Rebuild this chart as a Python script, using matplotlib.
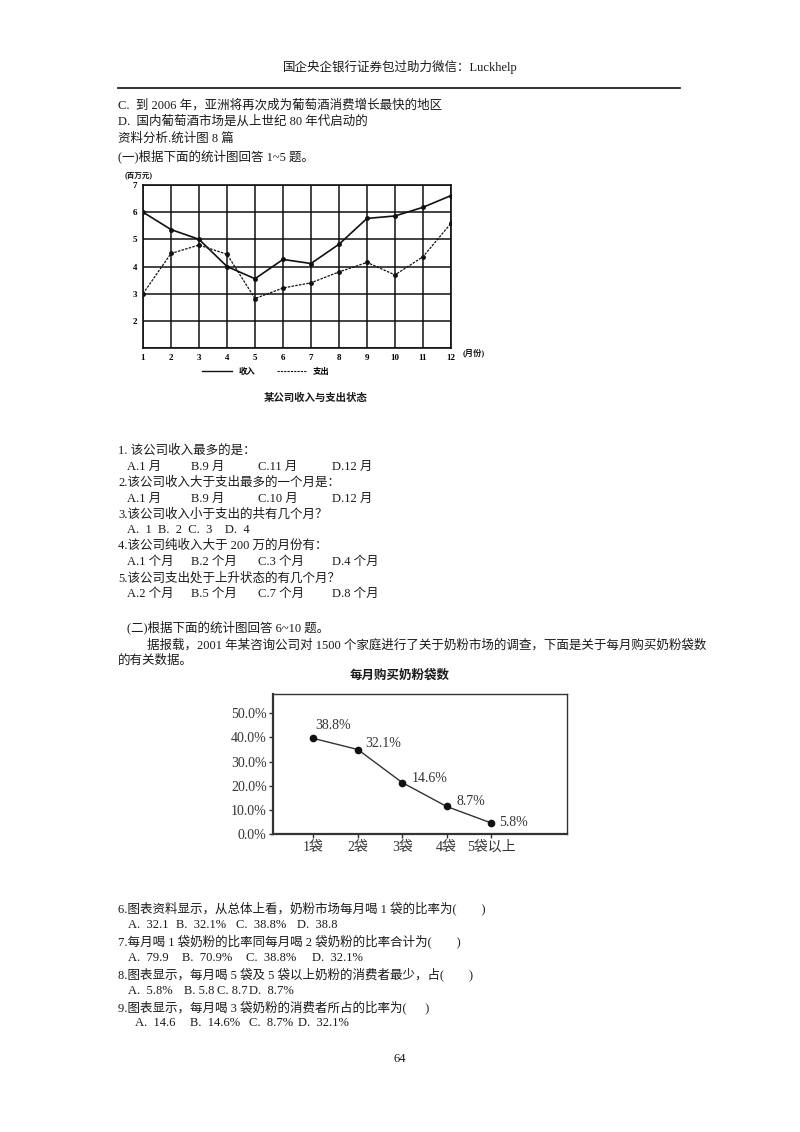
import matplotlib
matplotlib.use('Agg')
import matplotlib.pyplot as plt
from matplotlib.lines import Line2D

plt.rcParams['font.family'] = ['Liberation Serif', 'Noto Sans CJK SC']
plt.rcParams['axes.unicode_minus'] = False

# chart 1: monthly income / expense (million yuan)
months = list(range(1, 13))
income = [6.0, 5.36, 5.0, 4.0, 3.55, 4.26, 4.11, 4.82, 5.77, 5.86, 6.18, 6.61]
expense = [3.0, 4.48, 4.79, 4.45, 2.82, 3.21, 3.40, 3.80, 4.15, 3.69, 4.36, 5.59]

# chart 2: bags of milk powder bought per month
bag_labels = ['1袋', '2袋', '3袋', '4袋', '5袋以上']
bag_values = [39.6, 35.0, 21.3, 11.4, 4.6]   # as plotted
bag_texts = ['38.8%', '32.1%', '14.6%', '8.7%', '5.8%']  # as printed

W, H = 800, 1132
fig = plt.figure(figsize=(8, 11.32), dpi=100)
fig.patch.set_facecolor('white')


def fx(x):
    return x / W


def fy(y):
    return 1 - y / H


def put(x, y, s, size=9, **kw):
    fig.text(fx(x), fy(y), s, fontsize=size, va='center', color='#1a1a1a', **kw)


# page header
put(400, 67, '国企央企银行证券包过助力微信：Luckhelp', ha='center')
fig.add_artist(Line2D([fx(118), fx(680)], [fy(88), fy(88)], color='#222', lw=1.3))

put(118, 105, 'C.  到 2006 年，亚洲将再次成为葡萄酒消费增长最快的地区')
put(118, 122, 'D.  国内葡萄酒市场是从上世纪 80 年代启动的')
put(118, 139, '资料分析.统计图 8 篇')
put(118, 156, '(一)根据下面的统计图回答 1~5 题。')

# ---- chart 1 ----
ax1 = fig.add_axes([fx(143), fy(348), (451 - 143) / W, (348 - 185) / H])
ax1.plot(months, income, color='#111', lw=1.2, marker='o', ms=2.5)
ax1.plot(months, expense, color='#111', lw=0.9, ls=(0, (2, 1)), marker='o', ms=2.5)
ax1.set_xlim(1, 12)
ax1.set_ylim(1, 7)
ax1.set_xticks(months)
ax1.set_yticks(range(1, 8))
ax1.set_yticklabels([''] + [str(v) for v in range(2, 8)])
ax1.grid(True, color='#111', lw=1.1)
for s in ax1.spines.values():
    s.set_color('#111')
    s.set_linewidth(1.2)
ax1.tick_params(length=0, labelsize=6.5, pad=4)
for t in ax1.get_xticklabels() + ax1.get_yticklabels():
    t.set_fontweight('bold')
put(125, 175, '(百万元)', size=5.5, ha='left', fontweight='bold')
put(463, 353, '(月份)', size=6, ha='left', fontweight='bold')

handles = [Line2D([], [], color='#111', lw=1.0),
           Line2D([], [], color='#111', lw=0.8, ls=(0, (2, 1)))]
leg = ax1.legend(handles, ['收入', '支出'], ncol=2, frameon=False,
                 loc='center left', bbox_to_anchor=(fx(194), fy(372)),
                 bbox_transform=fig.transFigure, fontsize=6,
                 handlelength=3.6, handletextpad=0.8, columnspacing=2.6)
for t in leg.get_texts():
    t.set_fontweight('bold')
put(316, 398, '某公司收入与支出状态', size=7.5, ha='center', fontweight='bold')

# questions 1-5
put(118, 451, '1. 该公司收入最多的是：')
opt_x = [127, 191, 258, 332]
for x, s in zip(opt_x, ['A.1 月', 'B.9 月', 'C.11 月', 'D.12 月']):
    put(x, 467, s)
put(118, 483, '2.该公司收入大于支出最多的一个月是：')
for x, s in zip(opt_x, ['A.1 月', 'B.9 月', 'C.10 月', 'D.12 月']):
    put(x, 499, s)
put(118, 514, '3.该公司收入小于支出的共有几个月？')
put(127, 530, 'A.  1  B.  2  C.  3    D.  4')
put(118, 546, '4.该公司纯收入大于 200 万的月份有：')
for x, s in zip(opt_x, ['A.1 个月', 'B.2 个月', 'C.3 个月', 'D.4 个月']):
    put(x, 562, s)
put(118, 578, '5.该公司支出处于上升状态的有几个月？')
for x, s in zip(opt_x, ['A.2 个月', 'B.5 个月', 'C.7 个月', 'D.8 个月']):
    put(x, 594, s)

put(127, 627, '(二)根据下面的统计图回答 6~10 题。')
put(147, 645, '据报载，2001 年某咨询公司对 1500 个家庭进行了关于奶粉市场的调查，下面是关于每月购买奶粉袋数')
put(118, 661, '的有关数据。')

# ---- chart 2 ----
put(400, 676, '每月购买奶粉袋数', size=9, ha='center', fontweight='bold')
ax2 = fig.add_axes([fx(273), fy(834), (567 - 273) / W, (834 - 694) / H])
xpos = list(range(len(bag_labels)))
ax2.plot(xpos, bag_values, color='#333', lw=1.0, marker='o', ms=4.5,
         mfc='#111', mec='#111')
offsets = [(1, 9.5), (5, 4), (6.5, 3), (7, 3.5), (6, 0.5)]
for x, v, s, off in zip(xpos, bag_values, bag_texts, offsets):
    ax2.annotate(s, (x, v), xytext=off, textcoords='offset points',
                 ha='left', va='center', fontsize=10, color='#333')
ax2.set_xlim(-0.91, 5.71)
ax2.set_ylim(0, 58)
ax2.set_yticks(range(0, 51, 10))
ax2.set_yticklabels(['%.1f%%' % v for v in range(0, 51, 10)])
ax2.set_xticks(xpos)
ax2.set_xticklabels(bag_labels)
ax2.tick_params(direction='out', length=3, width=1, labelsize=10,
                colors='#333', pad=1.5)
for k, s in ax2.spines.items():
    s.set_color('#333')
    s.set_linewidth(1.6 if k in ('left', 'bottom') else 1.0)

# questions 6-9
put(118, 908, '6.图表资料显示，从总体上看，奶粉市场每月喝 1 袋的比率为(        )')
for x, s in zip([128, 176, 236, 297], ['A.  32.1', 'B.  32.1%', 'C.  38.8%', 'D.  38.8']):
    put(x, 925, s)
put(118, 941, '7.每月喝 1 袋奶粉的比率同每月喝 2 袋奶粉的比率合计为(        )')
for x, s in zip([128, 182, 246, 312], ['A.  79.9', 'B.  70.9%', 'C.  38.8%', 'D.  32.1%']):
    put(x, 958, s)
put(118, 974, '8.图表显示，每月喝 5 袋及 5 袋以上奶粉的消费者最少，占(        )')
for x, s in zip([128, 184, 217, 249], ['A.  5.8%', 'B. 5.8', 'C. 8.7', 'D.  8.7%']):
    put(x, 991, s)
put(118, 1007, '9.图表显示，每月喝 3 袋奶粉的消费者所占的比率为(      )')
for x, s in zip([135, 190, 249, 298], ['A.  14.6', 'B.  14.6%', 'C.  8.7%', 'D.  32.1%']):
    put(x, 1023, s)

put(400, 1059, '64', ha='center')

fig.savefig('out.png', dpi=100, facecolor='white')
